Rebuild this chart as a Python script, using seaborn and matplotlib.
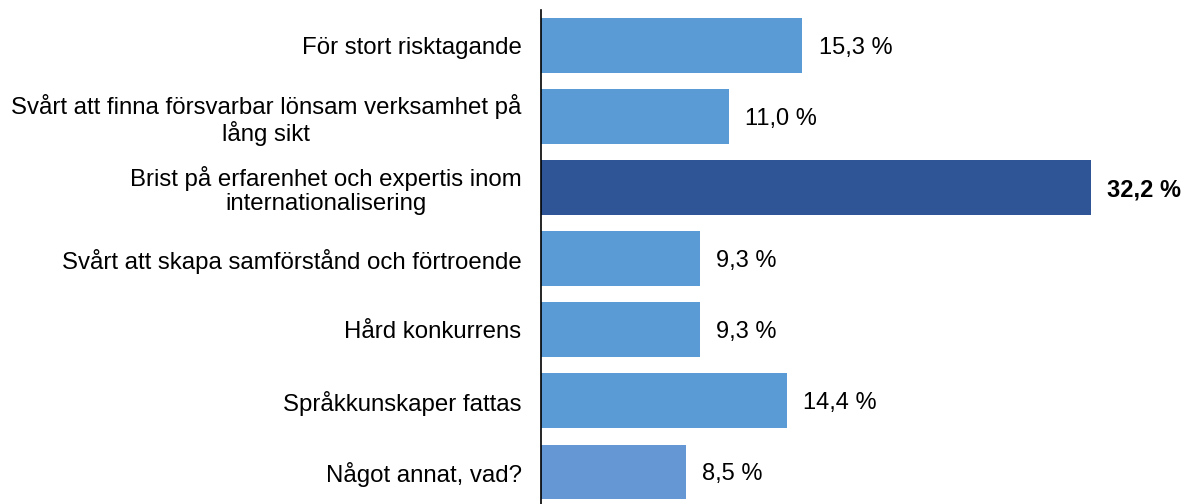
import matplotlib
matplotlib.use("Agg")
import matplotlib.pyplot as plt
import seaborn as sns

categories = [
    "För stort risktagande",
    "Svårt att finna försvarbar lönsam verksamhet på\nlång sikt",
    "Brist på erfarenhet och expertis inom\ninternationalisering",
    "Svårt att skapa samförstånd och förtroende",
    "Hård konkurrens",
    "Språkkunskaper fattas",
    "Något annat, vad?",
]
values = [15.3, 11.0, 32.2, 9.3, 9.3, 14.4, 8.5]
bar_colors = ["#5B9BD5", "#5B9BD5", "#2F5597", "#5B9BD5", "#5B9BD5", "#5B9BD5", "#6497D4"]
value_labels = ["15,3 %", "11,0 %", "32,2 %", "9,3 %", "9,3 %", "14,4 %", "8,5 %"]
bold_label = [False, False, True, False, False, False, False]

sns.set_style("white")
plt.rcParams['font.family'] = ['Liberation Sans', 'DejaVu Sans']

fig = plt.figure(figsize=(11.84, 5.04), dpi=100)
ax = fig.add_axes([541 / 1184, -0.007, 0.505, 0.988])

sns.barplot(x=values, y=categories, hue=categories, palette=bar_colors,
            legend=False, width=0.77, saturation=1, linewidth=0, ax=ax)

ax.set_xlim(0, 35)
ax.set_ylim(6.5, -0.5)
for i, (v, lab) in enumerate(zip(values, value_labels)):
    ax.text(v + 0.95, i, lab, va="center_baseline", ha="left", fontsize=17,
            fontweight="bold" if bold_label[i] else "normal", color="black")

ax.set_xlabel("")
ax.set_ylabel("")
ax.set_xticks([])
ax.tick_params(axis="y", length=0, pad=14, labelsize=17.3, labelcolor="black")
for t in ax.get_yticklabels():
    t.set_multialignment("center")
    t.set_linespacing(1.1)
for s in ["top", "right", "bottom"]:
    ax.spines[s].set_visible(False)
ax.spines["left"].set_color("black")
ax.spines["left"].set_linewidth(1.2)

fig.savefig("out.png", dpi=100)
